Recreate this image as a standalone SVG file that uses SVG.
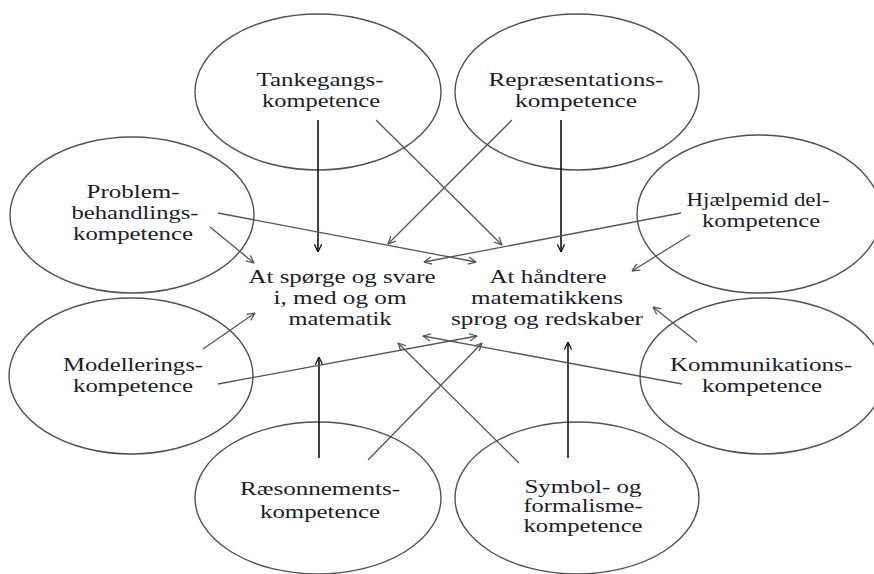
<svg xmlns="http://www.w3.org/2000/svg" width="874" height="574" viewBox="0 0 874 574">
<style>
.bg{fill:#ffffff}
.el{fill:none;stroke:#505050;stroke-width:1.4}
.t{font-family:"Liberation Serif","Times New Roman",serif;font-size:19px;fill:#1c1c28;text-anchor:middle}
.blk{stroke:#111;stroke-width:1.6;fill:none}
.gry{stroke:#555;stroke-width:1.3;fill:none}
</style>
<defs>
<marker id="ak" viewBox="0 0 10 10" refX="9.5" refY="5" markerWidth="9" markerHeight="9" markerUnits="userSpaceOnUse" orient="auto">
<path d="M1,1 L9.5,5 L1,9" fill="none" stroke="#111" stroke-width="1.4"/>
</marker>
<marker id="ag" viewBox="0 0 10 10" refX="9.5" refY="5" markerWidth="9" markerHeight="9" markerUnits="userSpaceOnUse" orient="auto">
<path d="M1,1 L9.5,5 L1,9" fill="none" stroke="#555" stroke-width="1.4"/>
</marker>
</defs>
<rect class="bg" x="0" y="0" width="874" height="574"/>
<g id="tankegang">
<ellipse class="el" cx="318" cy="92" rx="123" ry="78"/>
<text class="t" x="320" y="86" textLength="127" lengthAdjust="spacingAndGlyphs">Tankegangs-</text>
<text class="t" x="321" y="107" textLength="118" lengthAdjust="spacingAndGlyphs">kompetence</text>
</g>
<g id="repraesentation">
<ellipse class="el" cx="577" cy="92" rx="122" ry="78"/>
<text class="t" x="576" y="86" textLength="175" lengthAdjust="spacingAndGlyphs">Repræsentations-</text>
<text class="t" x="576" y="107" textLength="122" lengthAdjust="spacingAndGlyphs">kompetence</text>
</g>
<g id="problem">
<ellipse class="el" cx="132" cy="215" rx="122" ry="78"/>
<text class="t" x="133" y="198" textLength="93" lengthAdjust="spacingAndGlyphs">Problem-</text>
<text class="t" x="135" y="219" textLength="127" lengthAdjust="spacingAndGlyphs">behandlings-</text>
<text class="t" x="133" y="240" textLength="120" lengthAdjust="spacingAndGlyphs">kompetence</text>
</g>
<g id="hjaelpemiddel">
<ellipse class="el" cx="759" cy="214" rx="122" ry="79"/>
<text class="t" x="758" y="206" textLength="143" lengthAdjust="spacingAndGlyphs">Hjælpemid del-</text>
<text class="t" x="761" y="227" textLength="118" lengthAdjust="spacingAndGlyphs">kompetence</text>
</g>
<g id="modellering">
<ellipse class="el" cx="131" cy="376" rx="122" ry="78"/>
<text class="t" x="133" y="371" textLength="140" lengthAdjust="spacingAndGlyphs">Modellerings-</text>
<text class="t" x="133" y="392" textLength="120" lengthAdjust="spacingAndGlyphs">kompetence</text>
</g>
<g id="kommunikation">
<ellipse class="el" cx="762" cy="376" rx="122" ry="78"/>
<text class="t" x="761" y="371" textLength="182" lengthAdjust="spacingAndGlyphs">Kommunikations-</text>
<text class="t" x="762" y="392" textLength="120" lengthAdjust="spacingAndGlyphs">kompetence</text>
</g>
<g id="raesonnement">
<ellipse class="el" cx="318" cy="498" rx="123" ry="76"/>
<text class="t" x="320" y="495" textLength="160" lengthAdjust="spacingAndGlyphs">Ræsonnements-</text>
<text class="t" x="320" y="518" textLength="120" lengthAdjust="spacingAndGlyphs">kompetence</text>
</g>
<g id="symbol">
<ellipse class="el" cx="577" cy="498" rx="122" ry="76"/>
<text class="t" x="583" y="493" textLength="117" lengthAdjust="spacingAndGlyphs">Symbol- og</text>
<text class="t" x="583" y="512" textLength="119" lengthAdjust="spacingAndGlyphs">formalisme-</text>
<text class="t" x="583" y="532" textLength="119" lengthAdjust="spacingAndGlyphs">kompetence</text>
</g>
<g id="sporge">
<text class="t" x="342" y="283" textLength="187" lengthAdjust="spacingAndGlyphs">At spørge og svare</text>
<text class="t" x="340" y="304" textLength="133" lengthAdjust="spacingAndGlyphs">i, med og om</text>
<text class="t" x="340" y="325" textLength="103" lengthAdjust="spacingAndGlyphs">matematik</text>
</g>
<g id="handtere">
<text class="t" x="548" y="283" textLength="117" lengthAdjust="spacingAndGlyphs">At håndtere</text>
<text class="t" x="547" y="304" textLength="152" lengthAdjust="spacingAndGlyphs">matematikkens</text>
<text class="t" x="547" y="325" textLength="192" lengthAdjust="spacingAndGlyphs">sprog og redskaber</text>
</g>
<g id="connectors">
<line class="blk" x1="318" y1="120" x2="318" y2="252" marker-end="url(#ak)"/>
<line class="blk" x1="561" y1="120" x2="561" y2="252" marker-end="url(#ak)"/>
<line class="blk" x1="319" y1="458" x2="319" y2="357" marker-end="url(#ak)"/>
<line class="blk" x1="568" y1="458" x2="568" y2="342" marker-end="url(#ak)"/>
<line class="gry" x1="376" y1="120" x2="502" y2="245" marker-end="url(#ag)"/>
<line class="gry" x1="512" y1="120" x2="388" y2="244" marker-end="url(#ag)"/>
<line class="gry" x1="218" y1="213" x2="476" y2="262" marker-end="url(#ag)"/>
<line class="gry" x1="681" y1="213" x2="424" y2="262" marker-end="url(#ag)"/>
<line class="gry" x1="210" y1="227" x2="254" y2="263" marker-end="url(#ag)"/>
<line class="gry" x1="690" y1="235" x2="632" y2="271" marker-end="url(#ag)"/>
<line class="gry" x1="203" y1="349" x2="255" y2="313" marker-end="url(#ag)"/>
<line class="gry" x1="697" y1="342" x2="653" y2="307" marker-end="url(#ag)"/>
<line class="gry" x1="218" y1="384" x2="477" y2="336" marker-end="url(#ag)"/>
<line class="gry" x1="682" y1="384" x2="423" y2="336" marker-end="url(#ag)"/>
<line class="gry" x1="368" y1="460" x2="482" y2="343" marker-end="url(#ag)"/>
<line class="gry" x1="519" y1="463" x2="398" y2="343" marker-end="url(#ag)"/>
</g>
</svg>
